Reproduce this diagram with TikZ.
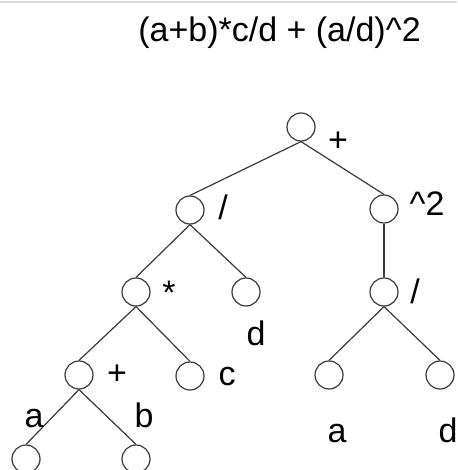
\documentclass[tikz,border=0pt]{standalone}
\usepackage{fontspec}
\setmainfont{Liberation Sans}
\usetikzlibrary{positioning}
\definecolor{edgegray}{HTML}{3A3A3A}
\definecolor{rulegray}{HTML}{DADADA}
\tikzset{
    opnode/.style={circle, draw=edgegray, line width=0.6pt, minimum size=14pt, inner sep=0pt},
    oplabel/.style={anchor=base, inner sep=0pt, font=\fontsize{17}{20}\selectfont},
    branch/.style={draw=edgegray, line width=0.6pt}
}

\begin{document}
\begin{tikzpicture}[x=0.5pt, y=-0.5pt]
    \fill[white] (0,0) rectangle (457,470);
    \useasboundingbox (0,0) rectangle (457,470);
    \clip (0,0) rectangle (457,470);
    \draw[rulegray, line width=1pt] (0,2.5) -- (457,2.5);

    \node[oplabel] (title) at (279.5,42) {(a+b)*c/d + (a/d)\textasciicircum 2};

    \node[opnode] (root) at (301,127) {};
    \node[opnode] (div) at (190,210) {};
    \node[opnode] (sq) at (384,209) {};
    \node[opnode] (mul) at (136,292) {};
    \node[opnode] (dleaf) at (246,292) {};
    \node[opnode] (divr) at (384,292) {};
    \node[opnode] (plus) at (79,375) {};
    \node[opnode] (cleaf) at (190,376) {};
    \node[opnode] (aright) at (329,375) {};
    \node[opnode] (dright) at (440,375) {};
    \node[opnode] (aleft) at (26,459) {};
    \node[opnode] (bleft) at (136,459) {};

    \draw[branch] (root.south) -- (div.north);
    \draw[branch] (root.south) -- (sq.north);
    \draw[branch] (div.south) -- (mul.north);
    \draw[branch] (div.south) -- (dleaf.north);
    \draw[branch] (sq.south) -- (divr.north);
    \draw[branch] (mul.south) -- (plus.north);
    \draw[branch] (mul.south) -- (cleaf.north);
    \draw[branch] (divr.south) -- (aright.north);
    \draw[branch] (divr.south) -- (dright.north);
    \draw[branch] (plus.south) -- (aleft.north);
    \draw[branch] (plus.south) -- (bleft.north);

    \node[oplabel] (lroot) at (338,152) {+};
    \node[oplabel] (ldiv) at (223,220) {/};
    \node[oplabel] (lsq) at (427,215) {\textasciicircum 2};
    \node[oplabel] (lmul) at (169,304) {*};
    \node[oplabel] (ldleaf) at (256,345) {d};
    \node[oplabel] (ldivr) at (415,303) {/};
    \node[oplabel] (lplus) at (117,384) {+};
    \node[oplabel] (lcleaf) at (227,385) {c};
    \node[oplabel] (laright) at (337,442) {a};
    \node[oplabel] (ldright) at (448,442) {d};
    \node[oplabel] (laleft) at (34,427) {a};
    \node[oplabel] (lbleft) at (144,427) {b};
\end{tikzpicture}
\end{document}
